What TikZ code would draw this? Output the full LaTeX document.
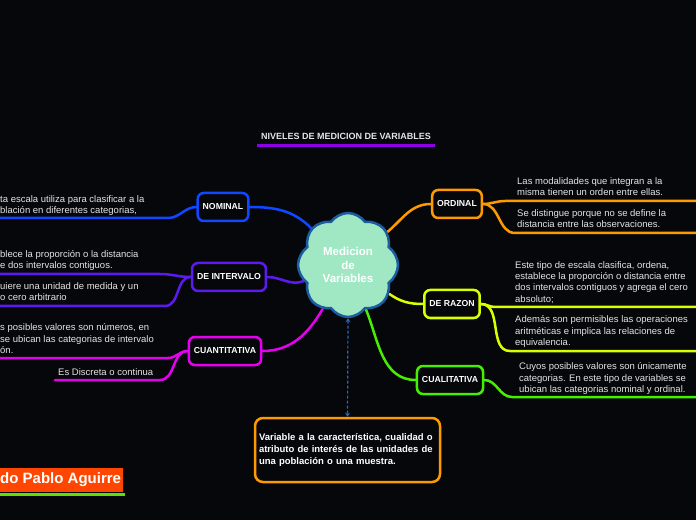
\documentclass[tikz,border=0pt]{standalone}
\usepackage{fontspec}
\setmainfont{Liberation Sans}
\usepackage{tikz}
\usetikzlibrary{shapes,shapes.symbols,positioning,calc,arrows.meta}

\definecolor{bgdark}{RGB}{6,7,10}
\definecolor{leafgrey}{RGB}{228,228,228}
\definecolor{nomblue}{RGB}{16,72,255}
\definecolor{intviolet}{RGB}{92,26,240}
\definecolor{cuamag}{RGB}{230,0,240}
\definecolor{ordorange}{RGB}{255,153,0}
\definecolor{razyellow}{RGB}{218,255,0}
\definecolor{cualgreen}{RGB}{70,238,0}
\definecolor{titlepurple}{RGB}{140,0,230}
\definecolor{cloudmint}{RGB}{160,232,196}
\definecolor{cloudblue}{RGB}{28,92,160}
\definecolor{dashblue}{RGB}{40,104,182}
\definecolor{namered}{RGB}{255,70,0}
\definecolor{namegreen}{RGB}{100,220,0}

\pgfdeclarelayer{back}
\pgfdeclarelayer{links}
\pgfsetlayers{back,links,main}

\begin{document}
\begin{tikzpicture}[
    x=1pt, y=1pt,
    box/.style={draw, line width=2.5pt, rounded corners=6pt, fill=bgdark, text=white, inner xsep=5pt, minimum height=28pt, font=\fontsize{8.7}{10}\selectfont\bfseries},
    leaf/.style={anchor=base west, align=left, inner sep=0pt, text=leafgrey, font=\fontsize{9.5}{11.3}\selectfont},
    link/.style={line width=2.5pt, line cap=round},
    arr/.style={<->, >={Stealth[length=4pt,width=5pt]}, dash pattern=on 3pt off 2pt, line width=1.2pt}
]
    \useasboundingbox (0,0) rectangle (696,520);
    \begin{pgfonlayer}{back}
        \fill[bgdark] (0,0) rectangle (696,520);
    \end{pgfonlayer}

    % --- Title ---
    \node[text=leafgrey, font=\fontsize{9}{10}\selectfont\bfseries, inner xsep=4pt, inner ysep=4pt] (title) at (346,384) {NIVELES DE MEDICION DE VARIABLES};
    \draw[line width=2.5pt, titlepurple] ($(title.south west)+(0,-2)$) -- ($(title.south east)+(0,-2)$);

    % --- Central cloud ---
    \node[cloud, cloud puffs=8, cloud puff arc=110, aspect=0.95, draw=cloudblue, fill=cloudmint, line width=2.5pt,
          minimum width=100pt, minimum height=104pt, inner sep=0pt, align=center, text=white,
          font=\fontsize{11.5}{13.8}\selectfont\bfseries] (var) at (348,255) {Medicion\\de\\Variables};

    % --- Left branches ---
    \node[box, draw=nomblue] (nom) at (223,313) {NOMINAL};
    \node[box, draw=intviolet] (inter) at (229,243) {DE INTERVALO};
    \node[box, draw=cuamag] (cuant) at (225,169) {CUANTITATIVA};

    % --- Right branches ---
    \node[box, draw=ordorange] (ord) at (457,316) {ORDINAL};
    \node[box, draw=razyellow] (raz) at (452,216) {DE RAZON};
    \node[box, draw=cualgreen] (cual) at (450,140) {CUALITATIVA};

    % --- Leaf texts (placed at last baseline) ---
    \node[leaf] (n1) at (0,306) {ta escala utiliza para clasificar a la\\blación en diferentes categorias,};
    \node[leaf] (i1) at (0,251) {blece la proporción o la distancia\\e dos intervalos contiguos.};
    \node[leaf] (i2) at (0,219) {uiere una unidad de medida y un\\o cero arbitrario};
    \node[leaf] (c1) at (0,166.5) {s posibles valores son números, en\\se ubican las categorias de intervalo\\ón.};
    \node[leaf] (c2) at (58,145) {Es Discreta o continua};
    \node[leaf] (o1) at (517,324) {Las modalidades que integran a la\\misma tienen un orden entre ellas.};
    \node[leaf] (o2) at (517,292.5) {Se distingue porque no se define la\\distancia entre las observaciones.};
    \node[leaf] (r1) at (515,218) {Este tipo de escala clasifica, ordena,\\establece la proporción o distancia entre\\dos intervalos contiguos y agrega el cero\\absoluto;};
    \node[leaf] (r2) at (515,174.5) {Además son permisibles las operaciones\\aritméticas e implica las relaciones de\\equivalencia.};
    \node[leaf] (q1) at (519,127.5) {Cuyos posibles valores son únicamente\\categorias. En este tipo de variables se\\ubican las categorias nominal y ordinal.};

    % --- Line ends ---
    \coordinate (n1a) at (168,302);  \coordinate (n1b) at (0,302);
    \coordinate (i1a) at (160,246);  \coordinate (i1b) at (0,246);
    \coordinate (i2a) at (165,214);  \coordinate (i2b) at (0,214);
    \coordinate (c1a) at (168,162);  \coordinate (c1b) at (0,162);
    \coordinate (c2a) at (160,140);  \coordinate (c2b) at (55,140);
    \coordinate (o1a) at (505,319);  \coordinate (o1b) at (696,319);
    \coordinate (o2a) at (515,287);  \coordinate (o2b) at (696,287);
    \coordinate (r1a) at (495,213);  \coordinate (r1b) at (696,213);
    \coordinate (r2a) at (510,169);  \coordinate (r2b) at (696,169);
    \coordinate (q1a) at (512,123);  \coordinate (q1b) at (696,123);

    \begin{pgfonlayer}{links}
        % cloud to branches
        \draw[link, nomblue] (nom.east) to[out=0,in=135] (var);
        \draw[link, intviolet] (inter.east) to[out=0,in=200] (var);
        \draw[link, cuamag] (cuant.east) to[out=0,in=240] (var);
        \draw[link, ordorange] (var) to[out=40,in=180] (ord.west);
        \draw[link, razyellow] (var) to[out=-35,in=180] (raz.west);
        \draw[link, cualgreen] (var) to[out=-68,in=180] (cual.west);
        % branches to leaves
        \draw[link, nomblue] (nom.west) to[out=180,in=0] (n1a) -- (n1b);
        \draw[link, intviolet] (inter.west) to[out=180,in=0] (i1a) -- (i1b);
        \draw[link, intviolet] (inter.west) to[out=180,in=0] (i2a) -- (i2b);
        \draw[link, cuamag] (cuant.west) to[out=180,in=0] (c1a) -- (c1b);
        \draw[link, cuamag] (cuant.west) to[out=180,in=0] (c2a) -- (c2b);
        \draw[link, ordorange] (ord.east) to[out=0,in=180] (o1a) -- (o1b);
        \draw[link, ordorange] (ord.east) to[out=0,in=180] (o2a) -- (o2b);
        \draw[link, razyellow] (raz.east) to[out=0,in=180] (r1a) -- (r1b);
        \draw[link, razyellow] (raz.east) to[out=0,in=180] (r2a) -- (r2b);
        \draw[link, cualgreen] (cual.east) to[out=0,in=180] (q1a) -- (q1b);
    \end{pgfonlayer}

    % --- Definition box ---
    \node[draw=ordorange, line width=2.5pt, rounded corners=8pt, fill=bgdark, text=white, text width=177pt, align=left,
          minimum width=185pt, minimum height=64pt, inner xsep=4pt,
          font=\fontsize{9.5}{11.6}\selectfont\bfseries] (def) at (347.5,70)
          {Variable a la característica, cualidad o\\atributo de interés de las unidades de\\una población o una muestra.\\[3pt]};
    \draw[arr, dashblue] (var.south) -- (def.north);

    % --- Author tag ---
    \node[fill=namered, text=white, anchor=west, inner xsep=2pt, minimum height=24pt,
          font=\fontsize{15}{16}\selectfont\bfseries] (name) at (-2,40) {do Pablo Aguirre};
    \draw[line width=3pt, namegreen] ($(name.south west)+(0,-2)$) -- ($(name.south east)+(2,-2)$);
\end{tikzpicture}
\end{document}
